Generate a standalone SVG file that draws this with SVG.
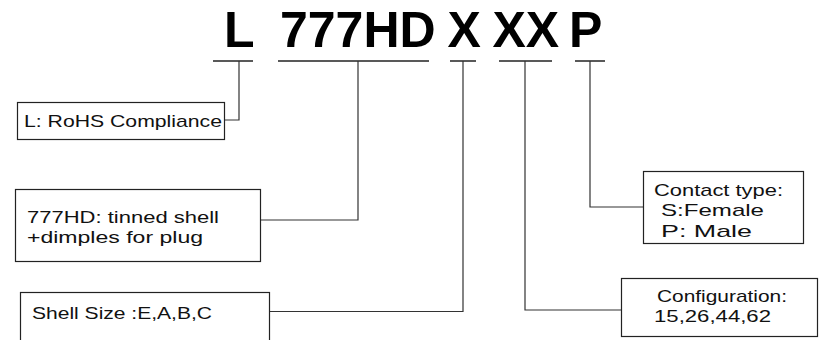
<svg xmlns="http://www.w3.org/2000/svg" width="829" height="340" viewBox="0 0 829 340">
<style>
.big{font-family:"Liberation Sans",Arial,sans-serif;font-size:50px;font-weight:bold;fill:#000}
.lbl{font-family:"Liberation Sans",Arial,sans-serif;font-size:17px;fill:#111}
.box{fill:#fff;stroke:#222;stroke-width:1.2}
.ul{stroke:#222;stroke-width:1.5;fill:none}
.con{stroke:#333;stroke-width:1.2;fill:none}
</style>
<rect width="829" height="340" fill="#fff"/>
<g id="code">
<text class="big" x="224" y="47">L</text>
<text class="big" x="280" y="47">777HD</text>
<text class="big" x="447.5" y="47">X</text>
<text class="big" x="492.5" y="47">XX</text>
<text class="big" x="569" y="47">P</text>
</g>
<g id="connectors">
<line class="ul" x1="213" y1="61" x2="253" y2="61"/>
<line class="ul" x1="278" y1="61" x2="429" y2="61"/>
<line class="ul" x1="450" y1="61" x2="476" y2="61"/>
<line class="ul" x1="499" y1="61" x2="552" y2="61"/>
<line class="ul" x1="575" y1="61" x2="605" y2="61"/>
<polyline class="con" points="239,61 239,120 224,120"/>
<polyline class="con" points="358,61 358,220 261,220"/>
<polyline class="con" points="463,61 463,311.5 269,311.5"/>
<polyline class="con" points="525,61 525,310 622,310"/>
<polyline class="con" points="590,61 590,207 643,207"/>
</g>
<g id="node-rohs">
<rect class="box" x="17.5" y="102.5" width="207" height="37"/>
<text class="lbl" x="24" y="127" textLength="198" lengthAdjust="spacingAndGlyphs">L: RoHS Compliance</text>
</g>
<g id="node-777hd">
<rect class="box" x="15.5" y="189.5" width="245" height="72"/>
<text class="lbl" x="27" y="223" textLength="192" lengthAdjust="spacingAndGlyphs">777HD: tinned shell</text>
<text class="lbl" x="27" y="243" textLength="176" lengthAdjust="spacingAndGlyphs">+dimples for plug</text>
</g>
<g id="node-shell">
<rect class="box" x="20.5" y="292.5" width="249" height="60"/>
<text class="lbl" x="32" y="319" textLength="180" lengthAdjust="spacingAndGlyphs">Shell Size :E,A,B,C</text>
</g>
<g id="node-contact">
<rect class="box" x="643.5" y="171.5" width="160" height="72"/>
<text class="lbl" x="654" y="196" textLength="129" lengthAdjust="spacingAndGlyphs">Contact type:</text>
<text class="lbl" x="661" y="216" textLength="103" lengthAdjust="spacingAndGlyphs">S:Female</text>
<text class="lbl" x="661" y="237" textLength="91" lengthAdjust="spacingAndGlyphs">P: Male</text>
</g>
<g id="node-config">
<rect class="box" x="621.5" y="278.5" width="196" height="58"/>
<text class="lbl" x="657" y="302" textLength="130" lengthAdjust="spacingAndGlyphs">Configuration:</text>
<text class="lbl" x="654" y="322" textLength="117" lengthAdjust="spacingAndGlyphs">15,26,44,62</text>
</g>
</svg>
